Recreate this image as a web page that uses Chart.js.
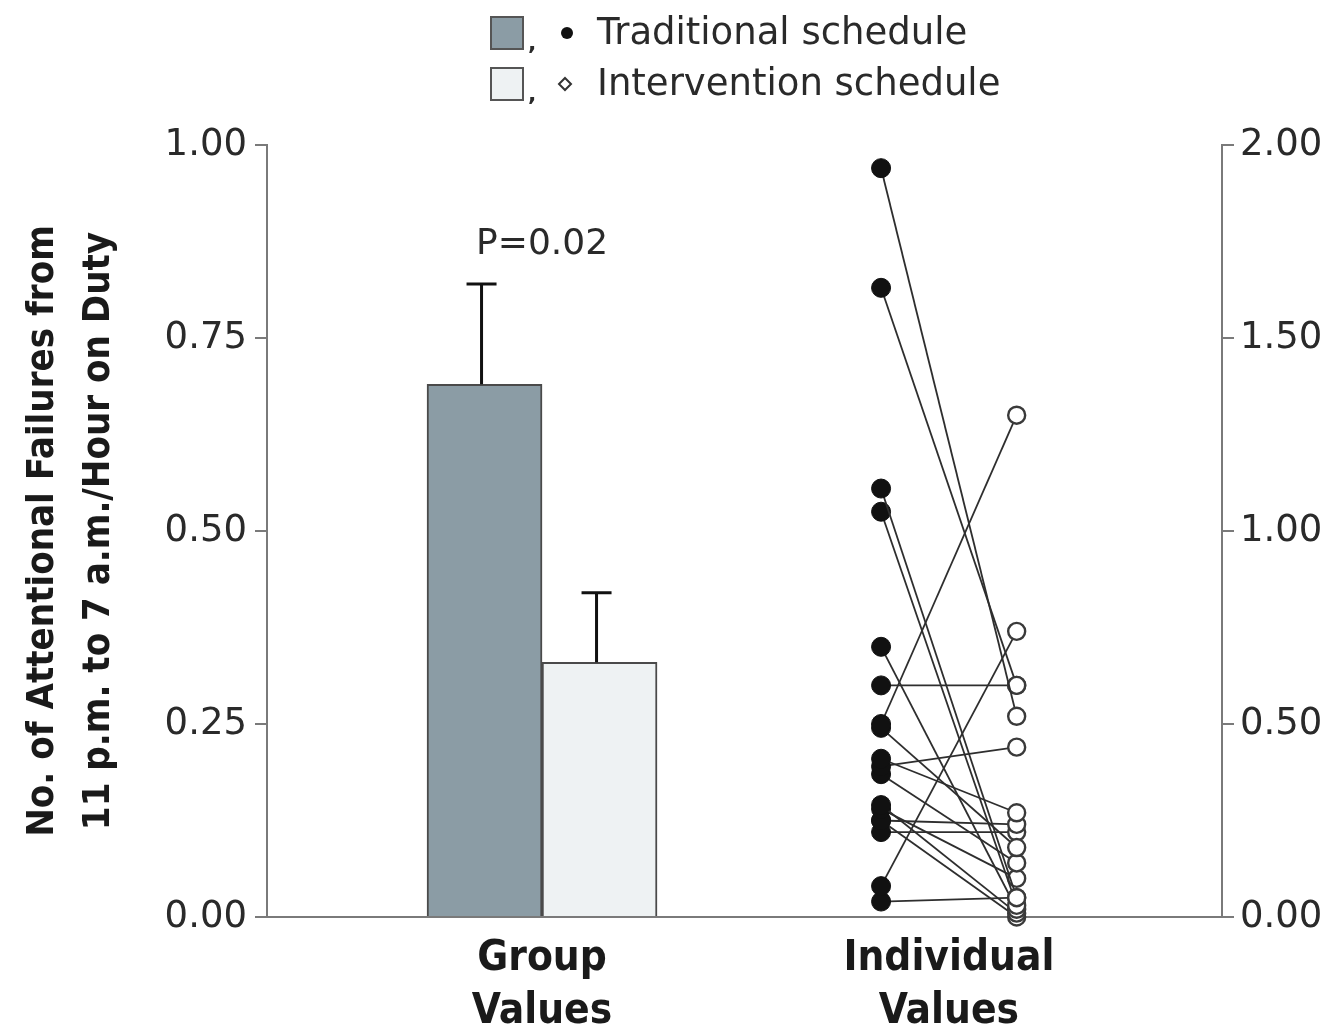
<!DOCTYPE html>
<html>
<head>
<meta charset="utf-8">
<script src="https://cdn.jsdelivr.net/npm/chart.js@4.4.1/dist/chart.umd.min.js"></script>
<style>
  html, body { margin: 0; padding: 0; background: #ffffff; }
  canvas { display: block; }
</style>
</head>
<body>
<canvas id="chart" width="1334" height="1028"></canvas>
<script>
// ---- data ----
const seriesNames = ['Traditional schedule', 'Intervention schedule'];
const groupMeans = [0.69, 0.33];          // left axis
const groupErrUpper = [0.82, 0.42];       // top of error bars, left axis
const pValueText = 'P=0.02';
// paired values per intern, right axis
const traditionalValues  = [1.94, 1.63, 1.11, 1.05, 0.70, 0.60, 0.50, 0.49, 0.41, 0.39, 0.37, 0.29, 0.28, 0.25, 0.25, 0.22, 0.08, 0.04];
const interventionValues = [0.52, 0.60, 0.05, 0.03, 0.02, 0.60, 1.30, 0.18, 0.27, 0.44, 0.14, 0.01, 0.10, 0.24, 0.00, 0.22, 0.74, 0.05];
const categoryLabels = [['Group', 'Values'], ['Individual', 'Values']];
const leftTickValues = [0, 0.25, 0.50, 0.75, 1.00];
const rightTickValues = [0, 0.50, 1.00, 1.50, 2.00];
const leftAxisTitle = ['No. of Attentional Failures from', '11 p.m. to 7 a.m./Hour on Duty'];

// ---- layout (horizontal positions on a hidden 0–100 axis) ----
const X_GROUP = 28.8;
const X_TRAD = 64.3;
const X_INTV = 78.5;
const categoryPositions = [X_GROUP, (X_TRAD + X_INTV) / 2];

const COLORS = {
  tradFill: '#8b9ca5',
  intvFill: '#eef2f3',
  barBorder: '#4a4a4a',
  axis: '#7a7a7a',
  text: '#2a2a2a'
};
const TICK_FONT = { family: '"DejaVu Sans", sans-serif', size: 37 };
const BOLD_FONT = '"DejaVu Sans Condensed", "DejaVu Sans", sans-serif';

const datasets = [
  {
    type: 'bar', label: seriesNames[0], yAxisID: 'yL', xAxisID: 'x',
    data: [{ x: X_GROUP, y: groupMeans[0] }],
    backgroundColor: COLORS.tradFill, borderColor: COLORS.barBorder, borderWidth: 2,
    barThickness: 115, order: 2
  },
  {
    type: 'bar', label: seriesNames[1], yAxisID: 'yL', xAxisID: 'x',
    data: [{ x: X_GROUP, y: groupMeans[1] }],
    backgroundColor: COLORS.intvFill, borderColor: COLORS.barBorder, borderWidth: 2,
    barThickness: 115, order: 2
  }
];

traditionalValues.forEach((tv, i) => {
  datasets.push({
    type: 'line', label: 'pair' + i, yAxisID: 'yR', xAxisID: 'x',
    data: [{ x: X_TRAD, y: tv }, { x: X_INTV, y: interventionValues[i] }],
    borderColor: '#2e2e2e', borderWidth: 1.8, tension: 0,
    pointRadius: [9.5, 8.5], pointHoverRadius: [9.5, 8.5],
    pointBackgroundColor: ['#111111', '#ffffff'],
    pointBorderColor: ['#111111', '#3a3a3a'],
    pointBorderWidth: [1, 2.4],
    clip: false, order: 1
  });
});

// Error bars above each group bar, plus the significance label
const errorBarsPlugin = {
  id: 'errorBars',
  afterDatasetsDraw(chart) {
    const yL = chart.scales.yL;
    const ctx = chart.ctx;
    [0, 1].forEach(i => {
      const bar = chart.getDatasetMeta(i).data[0];
      const top = yL.getPixelForValue(groupErrUpper[i]);
      ctx.save();
      ctx.strokeStyle = '#111';
      ctx.lineWidth = 3;
      ctx.beginPath();
      ctx.moveTo(bar.x - 3, bar.y);
      ctx.lineTo(bar.x - 3, top);
      ctx.moveTo(bar.x - 18, top);
      ctx.lineTo(bar.x + 12, top);
      ctx.stroke();
      ctx.restore();
    });
    const xs = chart.scales.x;
    const topErr = yL.getPixelForValue(Math.max(...groupErrUpper));
    ctx.save();
    ctx.fillStyle = COLORS.text;
    ctx.font = '36px "DejaVu Sans", sans-serif';
    ctx.textAlign = 'center';
    ctx.textBaseline = 'alphabetic';
    ctx.fillText(pValueText, xs.getPixelForValue(X_GROUP), topErr - 30);
    ctx.restore();
  }
};

// Combined legend: bar swatch + point marker for each schedule
const legendPlugin = {
  id: 'pairedLegend',
  afterDraw(chart) {
    const ctx = chart.ctx;
    const rows = [
      { y: 33, fill: COLORS.tradFill, dotFill: '#111', dotStroke: '#111', diamond: false },
      { y: 84, fill: COLORS.intvFill, dotFill: '#fff', dotStroke: '#333', diamond: true }
    ];
    ctx.save();
    rows.forEach((r, i) => {
      ctx.fillStyle = r.fill;
      ctx.strokeStyle = '#555';
      ctx.lineWidth = 2;
      ctx.fillRect(491, r.y - 16, 32, 32);
      ctx.strokeRect(491, r.y - 16, 32, 32);
      ctx.fillStyle = COLORS.text;
      ctx.font = 'bold 22px "DejaVu Sans", sans-serif';
      ctx.textAlign = 'left';
      ctx.textBaseline = 'alphabetic';
      ctx.fillText(',', 528, r.y + 17);
      ctx.beginPath();
      if (r.diamond) {
        ctx.moveTo(565, r.y - 6); ctx.lineTo(571, r.y); ctx.lineTo(565, r.y + 6); ctx.lineTo(559, r.y);
        ctx.closePath();
        ctx.fillStyle = r.dotFill; ctx.fill();
        ctx.strokeStyle = r.dotStroke; ctx.lineWidth = 2; ctx.stroke();
      } else {
        ctx.arc(567, r.y, 6, 0, Math.PI * 2);
        ctx.fillStyle = r.dotFill; ctx.fill();
      }
      ctx.fillStyle = COLORS.text;
      ctx.font = '37px "DejaVu Sans", sans-serif';
      ctx.textBaseline = 'middle';
      ctx.fillText(seriesNames[i], 597, r.y + 1);
    });
    ctx.restore();
  }
};

const whiteBg = {
  id: 'whiteBg',
  beforeDraw(chart) {
    const ctx = chart.ctx;
    ctx.save();
    ctx.fillStyle = '#ffffff';
    ctx.fillRect(0, 0, chart.width, chart.height);
    ctx.restore();
  }
};

const axisGrid = {
  display: true, drawOnChartArea: false, drawTicks: true,
  tickLength: 12, color: COLORS.axis, lineWidth: 2
};
const axisBorder = { display: true, color: COLORS.axis, width: 2 };

new Chart(document.getElementById('chart'), {
  type: 'bar',
  data: { datasets },
  plugins: [whiteBg, errorBarsPlugin, legendPlugin],
  options: {
    responsive: false,
    animation: false,
    devicePixelRatio: 1,
    layout: { padding: { top: 145, left: 0, right: 0, bottom: 0 } },
    plugins: { legend: { display: false }, tooltip: { enabled: false } },
    scales: {
      x: {
        type: 'linear', position: 'bottom', min: 0, max: 100, offset: false,
        grid: { display: false, drawTicks: false, offset: false },
        border: axisBorder,
        afterBuildTicks: s => { s.ticks = categoryPositions.map(v => ({ value: v })); },
        afterFit: s => { s.height = 111; },
        ticks: {
          autoSkip: false, maxRotation: 0, padding: 16,
          color: '#1a1a1a',
          font: { family: BOLD_FONT, size: 42, weight: 'bold', lineHeight: 1.25 },
          callback: (v, i) => categoryLabels[i]
        }
      },
      yL: {
        type: 'linear', position: 'left', min: 0, max: 1,
        grid: axisGrid, border: axisBorder,
        afterBuildTicks: s => { s.ticks = leftTickValues.map(v => ({ value: v })); },
        afterFit: s => { s.width = 267; },
        ticks: { color: COLORS.text, font: TICK_FONT, padding: 8, callback: v => v.toFixed(2) },
        title: {
          display: true, text: leftAxisTitle, color: '#1a1a1a',
          font: { family: BOLD_FONT, size: 38, weight: 'bold', lineHeight: 1.45 },
          padding: { top: 16, bottom: 0 }
        }
      },
      yR: {
        type: 'linear', position: 'right', min: 0, max: 2,
        grid: axisGrid, border: axisBorder,
        afterBuildTicks: s => { s.ticks = rightTickValues.map(v => ({ value: v })); },
        afterFit: s => { s.width = 112; },
        ticks: { color: COLORS.text, font: TICK_FONT, padding: 6, callback: v => v.toFixed(2) }
      }
    }
  }
});
</script>
</body>
</html>
